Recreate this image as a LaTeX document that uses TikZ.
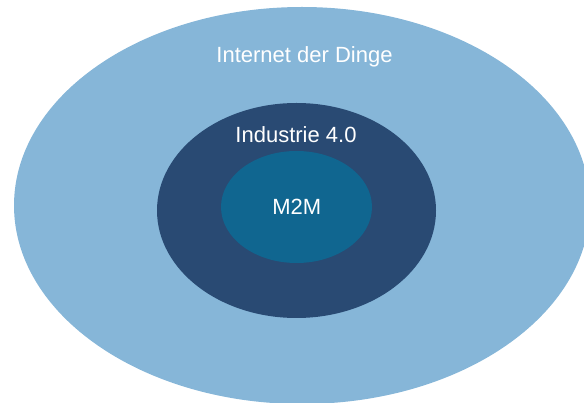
\documentclass[tikz,border=0pt]{standalone}
\usepackage{fontspec}
\setmainfont{Liberation Sans}
\usetikzlibrary{shapes.geometric}
\definecolor{outerblue}{RGB}{134,182,216}
\definecolor{midblue}{RGB}{41,74,115}
\definecolor{innerblue}{RGB}{16,102,144}
\tikzset{
  blob/.style={ellipse, draw=none, inner sep=0pt},
  lbl/.style={anchor=base, text=white, inner sep=0pt, font=\fontsize{22}{26}\selectfont}
}
\begin{document}
\begin{tikzpicture}[x=1pt,y=-1pt]
\useasboundingbox (0,0) rectangle (584,403);
\begin{scope}
\clip (0,0) rectangle (584,403);
\node[blob, fill=outerblue, minimum width=576pt, minimum height=397pt] (outer) at (302,205.5) {};
\end{scope}
\node[blob, fill=midblue, minimum width=279pt, minimum height=215pt] (mid) at (296.5,210.5) {};
\node[blob, fill=innerblue, minimum width=151pt, minimum height=112pt] (inner) at (296.5,207) {};
\node[lbl] (tiot) at (304.5,63) {Internet der Dinge};
\node[lbl] (tind) at (296,143) {Industrie 4.0};
\node[lbl] (tm2m) at (296.7,215) {M2M};
\end{tikzpicture}
\end{document}
